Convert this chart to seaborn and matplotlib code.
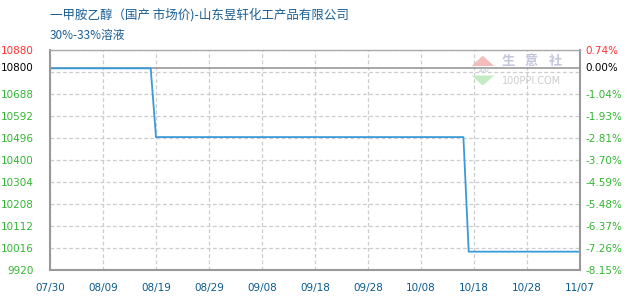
import matplotlib
matplotlib.use("Agg")
import matplotlib.pyplot as plt
from matplotlib.patches import Polygon
import seaborn as sns
import pandas as pd
import numpy as np

# ---- data ----
dates = ["2019-07-30", "2019-08-18", "2019-08-19", "2019-10-16", "2019-10-17", "2019-11-07"]
prices = [10800, 10800, 10500, 10500, 10000, 10000]
base_price = 10800
y_min, y_max = 9920, 10880
y_step = 96
x_tick_labels = ["07/30", "08/09", "08/19", "08/29", "09/08", "09/18",
                 "09/28", "10/08", "10/18", "10/28", "11/07"]
title = "一甲胺乙醇（国产 市场价)-山东昱轩化工产品有限公司"
subtitle = "30%-33%溶液"

df = pd.DataFrame({"date": pd.to_datetime(dates), "price": prices})

sns.set_style("white")
plt.rcParams["font.family"] = ["DejaVu Sans", "Noto Sans CJK SC"]

W, H = 630, 300
fig = plt.figure(figsize=(6.3, 3.0), dpi=100)
ax = fig.add_axes([50 / W, 30 / H, 530 / W, 220 / H])


def fx(px):
    return px / W


def fy(py):
    return 1 - py / H


# watermark (behind everything)
fig.patches.append(Polygon([(fx(471.7), fy(66)), (fx(494.3), fy(66)), (fx(482.7), fy(55.7))],
                           closed=True, transform=fig.transFigure, facecolor="#f5bcbc",
                           edgecolor="none", zorder=0))
fig.patches.append(Polygon([(fx(471.7), fy(75.5)), (fx(494.3), fy(75.5)), (fx(482.7), fy(85.7))],
                           closed=True, transform=fig.transFigure, facecolor="#c4ecc4",
                           edgecolor="none", zorder=0))
fig.text(fx(483), fy(70.5), "100", ha="center", va="center", fontsize=4.5,
         color="#b8b8c8", zorder=0)
for ch, cx in zip(["生", "意", "社"], [508, 531.5, 555]):
    fig.text(fx(cx), fy(61.5), ch, ha="center", va="center", fontsize=9.5,
             color="#c2c6dc", family=["Noto Sans CJK SC"], zorder=0, fontweight="bold")
fig.text(fx(532), fy(80.7), "100PPI.COM", ha="center", va="center", fontsize=7,
         color="#cccccc", zorder=0)
ax.patch.set_alpha(0)

sns.lineplot(data=df, x="date", y="price", ax=ax, color="#3a9ad9", linewidth=1.3)

x0 = pd.Timestamp("2019-07-30")
x1 = pd.Timestamp("2019-11-07")
ax.set_xlim(x0, x1)
ax.set_ylim(y_min, y_max)

tick_dates = pd.date_range(x0, x1, freq="10D")
ax.set_xticks(tick_dates)
ax.set_xticklabels(x_tick_labels, color="#0a5a8c", fontsize=7.5)

yt = np.arange(y_min, y_max + 1, y_step)
ax.set_yticks(yt)
left_labels = []
left_colors = []
for v in yt:
    if abs(v - base_price) < y_step / 2:
        left_labels.append("")
        left_colors.append("black")
    else:
        left_labels.append(str(int(v)))
        left_colors.append("#ff3333" if v == y_max else "#33b533")
ax.set_yticklabels(left_labels, fontsize=7.5)
for lbl, c in zip(ax.get_yticklabels(), left_colors):
    lbl.set_color(c)
ax.text(-16 / 530, base_price, str(base_price), transform=ax.get_yaxis_transform(),
        ha="right", va="center", fontsize=7.5, color="black")

ax.tick_params(axis="both", length=0)
ax.tick_params(axis="y", pad=11.5)
ax.tick_params(axis="x", pad=9)
ax.set_xlabel("")
ax.set_ylabel("")

ax.grid(True, color="#cccccc", linestyle=(0, (3, 2)), linewidth=0.9)
ax.axhline(base_price, color="#999999", linewidth=1.2, zorder=1.5)

for s in ["left", "bottom", "right"]:
    ax.spines[s].set_color("#999999")
    ax.spines[s].set_linewidth(1.5)
ax.spines["top"].set_color("#aaaaaa")
ax.spines["top"].set_linewidth(1.0)

# right axis (percent change)
ax2 = ax.twinx()
ax2.patch.set_alpha(0)
ax2.set_ylim(y_min, y_max)
ax2.set_yticks(yt)
right_labels = []
right_colors = []
for v in yt:
    if abs(v - base_price) < y_step / 2:
        right_labels.append("")
        right_colors.append("black")
    else:
        right_labels.append(f"{(v / base_price - 1) * 100:.2f}%")
        right_colors.append("#ff3333" if v == y_max else "#33b533")
ax2.set_yticklabels(right_labels, fontsize=7.5)
for lbl, c in zip(ax2.get_yticklabels(), right_colors):
    lbl.set_color(c)
ax2.text(1 + 5 / 530, base_price, "0.00%", transform=ax2.get_yaxis_transform(),
         ha="left", va="center", fontsize=7.5, color="black")
ax2.tick_params(axis="y", length=0, pad=3.6)
for s in ax2.spines.values():
    s.set_visible(False)

fig.text(fx(50), fy(15), title, ha="left", va="center", fontsize=9,
         color="#1a5f95", family=["Noto Sans CJK SC", "DejaVu Sans"])
fig.text(fx(50), fy(35), subtitle, ha="left", va="center", fontsize=8.5,
         color="#1a5f95", family=["Noto Sans CJK SC", "DejaVu Sans"])

fig.savefig("out.png", dpi=100, facecolor="white")
